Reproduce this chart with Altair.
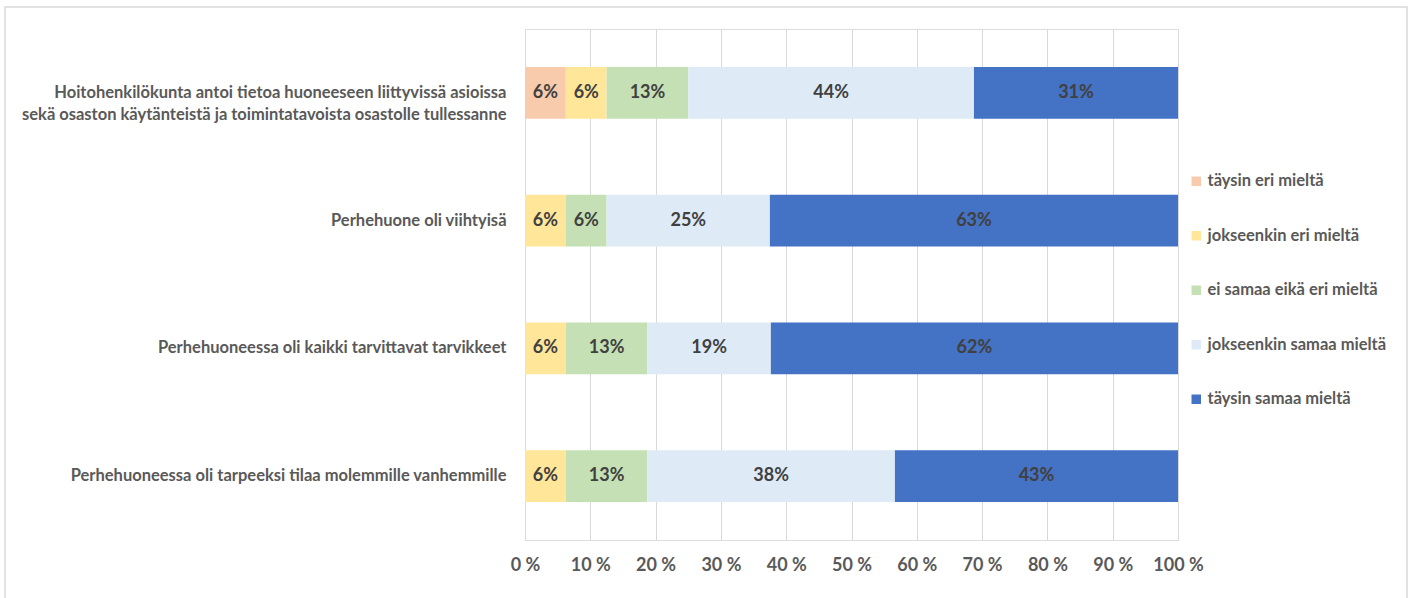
import altair as alt
import pandas as pd

categories = [
    "Hoitohenkilökunta antoi tietoa huoneeseen liittyvissä asioissa|sekä osaston käytänteistä ja toimintatavoista osastolle tullessanne",
    "Perhehuone oli viihtyisä",
    "Perhehuoneessa oli kaikki tarvittavat tarvikkeet",
    "Perhehuoneessa oli tarpeeksi tilaa molemmille vanhemmille",
]
responses = [
    "täysin eri mieltä",
    "jokseenkin eri mieltä",
    "ei samaa eikä eri mieltä",
    "jokseenkin samaa mieltä",
    "täysin samaa mieltä",
]
colors = ["#F8CBAD", "#FFE699", "#C5E0B4", "#DEEBF7", "#4472C4"]

taysin_eri = [6.25, 0, 0, 0]
jokseenkin_eri = [6.25, 6.25, 6.25, 6.25]
ei_samaa_eika_eri = [12.5, 6.25, 12.5, 12.5]
jokseenkin_samaa = [43.75, 25.0, 18.9, 37.9]
taysin_samaa = [31.25, 62.5, 62.35, 43.35]

series = [taysin_eri, jokseenkin_eri, ei_samaa_eika_eri, jokseenkin_samaa, taysin_samaa]

rows = []
for ri, (resp, vals) in enumerate(zip(responses, series)):
    for cat, v in zip(categories, vals):
        if v > 0:
            rows.append({"kysymys": cat, "vastaus": resp, "jarj": ri, "arvo": v})
df = pd.DataFrame(rows)

FONT = "Lato"
GREY = "#595959"

base = alt.Chart(df).transform_stack(
    stack="arvo", groupby=["kysymys"], as_=["alku", "loppu"],
    sort=[alt.SortField("jarj", order="ascending")],
).transform_calculate(
    keski="(datum.alku + datum.loppu) / 2",
    teksti="format(datum.arvo, '.0f') + '%'",
)

y_enc = alt.Y(
    "kysymys:N", sort=categories, title=None,
    scale=alt.Scale(paddingInner=0.594, paddingOuter=0.297),
    axis=alt.Axis(
        labelExpr="split(datum.label, '|')",
        labelFont=FONT, labelFontSize=16.5, labelFontWeight="bold",
        labelColor=GREY, labelPadding=19, labelLimit=600,
        labelLineHeight=22, domain=False, ticks=False, grid=False,
    ),
)

bars = base.mark_bar().encode(
    x=alt.X(
        "alku:Q", title=None,
        scale=alt.Scale(domain=[0, 100], nice=False),
        axis=alt.Axis(
            values=list(range(0, 101, 10)),
            labelExpr="datum.value + ' %'",
            labelFont=FONT, labelFontSize=18, labelFontWeight="bold",
            labelColor=GREY, labelPadding=16, labelOverlap=False,
            labelFlush=False, domain=False, ticks=False,
            grid=True, gridColor="#D9D9D9", gridWidth=1,
        ),
    ),
    x2="loppu:Q",
    y=y_enc,
    color=alt.Color(
        "vastaus:N",
        scale=alt.Scale(domain=responses, range=colors),
        legend=alt.Legend(
            title=None, orient="none", legendX=663, legendY=144,
            symbolType="square", symbolSize=90, symbolStrokeWidth=0,
            labelFont=FONT, labelFontSize=16.5, labelFontWeight="bold",
            labelColor=GREY, rowPadding=37.5, labelOffset=3, labelLimit=300,
        ),
    ),
    order=alt.Order("jarj:Q"),
)

labels = base.mark_text(
    font=FONT, fontSize=18, fontWeight="bold", color="#404040", baseline="middle",
).encode(
    x="keski:Q",
    y=alt.Y("kysymys:N", sort=categories),
    text="teksti:N",
)

frame = alt.Chart(alt.Data(values=[{"a": 1}])).mark_rect(
    fill=None, stroke="#D9D9D9", strokeWidth=1.5,
).encode(
    x=alt.value(-520), x2=alt.value(882), y=alt.value(-22), y2=alt.value(575),
)

chart = alt.layer(frame, bars, labels).properties(
    width=653, height=511,
    padding={"left": 525, "top": 29, "right": 233, "bottom": 58},
    autosize=alt.AutoSizeParams(type="none"),
).configure_view(stroke=None).configure(background="white")

chart.save("out.html", embed_options={"renderer": "svg", "actions": False})
